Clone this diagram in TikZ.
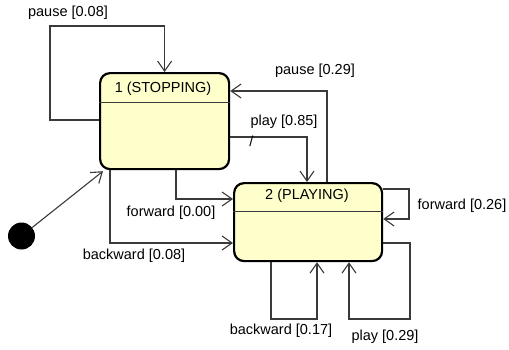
\documentclass[tikz,border=0pt]{standalone}
\usepackage{fontspec}
\setmainfont{Liberation Sans}
\usetikzlibrary{arrows.meta}
\definecolor{statefill}{HTML}{FFFFCC}
\definecolor{edgecol}{HTML}{3A3A3A}
\begin{document}
\begin{tikzpicture}[x=1pt,y=-1pt,
  statebox/.style={draw=black,line width=2.2pt,fill=statefill,rounded corners=10pt,
    minimum width=#1,inner sep=0pt,anchor=north west},
  divider/.style={draw=edgecol,line width=1pt},
  edge/.style={draw=edgecol,line width=1.1pt,-{Straight Barb[length=10pt,width=14pt,line width=1.1pt]}},
  lbl/.style={font=\fontsize{14.5}{17}\selectfont,inner sep=0pt,text=black},
  title/.style={font=\fontsize{14.5}{17}\selectfont,inner sep=0pt}]
\useasboundingbox (0,0) rectangle (509,349);

% states
\node[statebox=129pt,minimum height=96pt] (s1) at (99,72) {};
\node[statebox=148pt,minimum height=78pt] (s2) at (233,182) {};
\draw[divider] (s1.west |- 0,102) -- (s1.east |- 0,102);
\draw[divider] (s2.west |- 0,211) -- (s2.east |- 0,211);
\node[title] (t1) at (163,89) {1 (STOPPING)};
\node[title] (t2) at (307,196) {2 (PLAYING)};

% initial pseudostate
\node[circle,fill=black,minimum size=27pt,inner sep=0pt] (init) at (21.5,236) {};
\draw[edge] (init) -- ([xshift=4pt,yshift=-1pt]s1.south west);

% bend points
\coordinate (a1) at (50,120);
\coordinate (a2) at (50,26);
\coordinate (b1) at (327,91);
\coordinate (c1) at (307,137);
\coordinate (d1) at (176,199);
\coordinate (e1) at (110,243);
\coordinate (f1) at (409,189);
\coordinate (f2) at (409,219);
\coordinate (g1) at (271,319);
\coordinate (g2) at (317,319);
\coordinate (h1) at (410,243);
\coordinate (h2) at (410,319);
\coordinate (h3) at (349,319);

% transitions
\draw[edge] (s1.west |- a1) -- (a1) -- (a2) -| (s1.north);
\draw[edge] (s2.north -| b1) -- (b1) -- (s1.east |- b1);
\draw[edge] (s1.east |- c1) -- (c1) -- (s2.north -| c1);
\draw[edge] (s1.south -| d1) -- (d1) -- (s2.west |- d1);
\draw[edge] (s1.south -| e1) -- (e1) -- (s2.west |- e1);
\draw[edge] (s2.east |- f1) -- (f1) -- (f2) -- (s2.east |- f2);
\draw[edge] (s2.south -| g1) -- (g1) -- (g2) -- (s2.south -| g2);
\draw[edge] (s2.east |- h1) -- (h1) -- (h2) -- (h3) -- (s2.south -| h3);

% labels
\node[lbl] (l1) at (68,13) {pause [0.08]};
\node[lbl] (l2) at (315,71) {pause [0.29]};
\node[lbl] (l3) at (284,122) {play [0.85]};
\node[lbl] (l3s) at (251.5,141) {/};
\node[lbl] (l4) at (171,213) {forward [0.00]};
\node[lbl] (l5) at (134,256) {backward [0.08]};
\node[lbl] (l6) at (462,206) {forward [0.26]};
\node[lbl] (l7) at (281,331) {backward [0.17]};
\node[lbl] (l8) at (385,337) {play [0.29]};
\end{tikzpicture}
\end{document}
